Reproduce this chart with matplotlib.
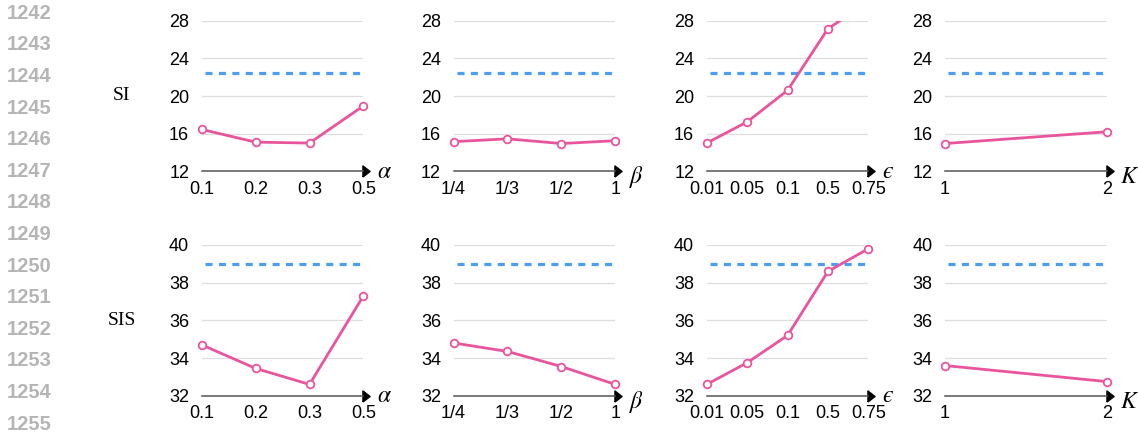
import matplotlib
matplotlib.use('Agg')
import matplotlib.pyplot as plt
from matplotlib.patches import Rectangle

plt.rcParams['font.family'] = ['Liberation Sans', 'DejaVu Sans']
plt.rcParams['mathtext.fontset'] = 'stix'

# x categories for each hyper-parameter
alpha_ticks = ['0.1', '0.2', '0.3', '0.5']
beta_ticks = ['1/4', '1/3', '1/2', '1']
eps_ticks = ['0.01', '0.05', '0.1', '0.5', '0.75']
k_ticks = ['1', '2']
param_names = [r'$\alpha$', r'$\beta$', '$\u03f5$', r'$K$']

# SI row
si_alpha = [16.45, 15.1, 15.0, 18.95]
si_beta = [15.15, 15.45, 14.95, 15.25]
si_eps = [15.0, 17.25, 20.6, 27.15, 30.0]
si_k = [14.95, 16.2]
si_baseline = 22.4
si_yticks = [12, 16, 20, 24, 28]

# SIS row
sis_alpha = [34.7, 33.45, 32.6, 37.3]
sis_beta = [34.8, 34.35, 33.55, 32.6]
sis_eps = [32.6, 33.75, 35.2, 38.6, 39.8]
sis_k = [33.6, 32.75]
sis_baseline = 39.0
sis_yticks = [32, 34, 36, 38, 40]

line_numbers = list(range(1242, 1256))

W, H = 1138, 433
fig = plt.figure(figsize=(W / 100, H / 100), dpi=100)

pink = '#e9559c'
blue = '#4b9ef3'
lefts = [201.7, 453.5, 706.7, 945.0]
ax_w = 161.7
rows = [
    ('SI', [si_alpha, si_beta, si_eps, si_k], si_baseline, si_yticks, 20.7, 171.3),
    ('SIS', [sis_alpha, sis_beta, sis_eps, sis_k], sis_baseline, sis_yticks, 245.0, 395.7),
]
all_ticks = [alpha_ticks, beta_ticks, eps_ticks, k_ticks]
label_drop = [4.7, 8.6, 4.7, 8.6]

# arrow head shape for the x axis
arrow = [(-0.32, -0.5), (0.32, 0.0), (-0.32, 0.5), (-0.32, -0.5)]

for row_name, series, base, yticks, top_px, bot_px in rows:
    for j in range(4):
        ax = fig.add_axes([lefts[j] / W, 1 - bot_px / H, ax_w / W, (bot_px - top_px) / H])
        ticks = all_ticks[j]
        xs = list(range(len(ticks)))
        ax.set_xlim(0, len(ticks) - 1)
        ax.set_ylim(yticks[0], yticks[-1])
        ax.set_yticks(yticks)
        ax.set_xticks(xs)
        ax.set_xticklabels(ticks)
        ax.grid(axis='y', color='#dedede', lw=0.9)
        ax.set_axisbelow(True)
        for s in ['left', 'top', 'right']:
            ax.spines[s].set_visible(False)
        ax.spines['bottom'].set_color('#555555')
        ax.spines['bottom'].set_linewidth(1.1)
        ax.tick_params(length=0, labelsize=13, colors='black')
        ax.tick_params(axis='y', pad=9)
        ax.tick_params(axis='x', pad=7)

        ax.axhline(base, xmin=0.02, color=blue, lw=2.3, ls=(0, (2.2, 2.0)))
        ln, = ax.plot(xs, series[j], color=pink, lw=2.0, marker='o', ms=5.5,
                      mfc='white', mec=pink, mew=1.3)
        ln.set_clip_path(Rectangle((-0.1, 0), 1.2, 1.0, transform=ax.transAxes))

        ax.plot([1.019], [0], marker=arrow, ms=8, color='black', ls='none',
                transform=ax.transAxes, clip_on=False)
        ax.annotate(param_names[j], xy=(1, 0), xycoords='axes fraction',
                    xytext=(9.8, -label_drop[j]), textcoords='offset points',
                    ha='left', va='baseline', fontsize=17)

    fig.text(122 / W, 1 - (top_px + bot_px) / 2 / H, row_name, ha='center', va='center',
             fontsize=14, family='Liberation Serif')

for i, n in enumerate(line_numbers):
    fig.text(7 / W, 1 - (13.3 + 31.6 * i) / H, str(n), ha='left', va='center',
             fontsize=14.5, fontweight='bold', color='#b5b5b5')

fig.savefig('out.png', dpi=100)
